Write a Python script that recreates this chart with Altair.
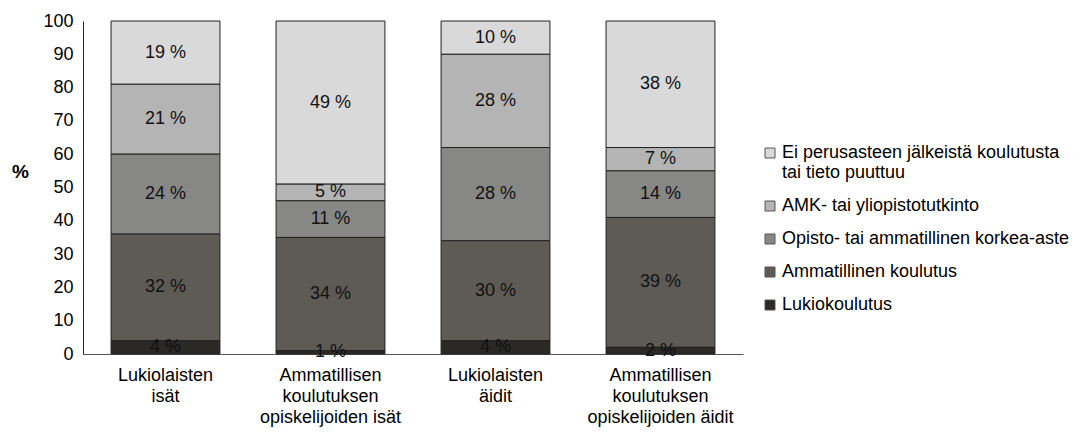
import altair as alt
import pandas as pd

groups = [
    "Lukiolaisten\nisät",
    "Ammatillisen\nkoulutuksen\nopiskelijoiden isät",
    "Lukiolaisten\näidit",
    "Ammatillisen\nkoulutuksen\nopiskelijoiden äidit",
]
# legend order (top to bottom)
categories = [
    "Ei perusasteen jälkeistä koulutusta\ntai tieto puuttuu",
    "AMK- tai yliopistotutkinto",
    "Opisto- tai ammatillinen korkea-aste",
    "Ammatillinen koulutus",
    "Lukiokoulutus",
]
colors = ["#d9d9d9", "#b4b4b4", "#878786", "#5e5b56", "#2a2925"]

# values per category, in group order
ei = [19, 49, 10, 38]
amk = [21, 5, 28, 7]
opisto = [24, 11, 28, 14]
ammat = [32, 34, 30, 39]
lukio = [4, 1, 4, 2]

y_ticks = list(range(0, 101, 10))

series = [ei, amk, opisto, ammat, lukio]
rows = []
for ci, (cat, vals) in enumerate(zip(categories, series)):
    for g, v in zip(groups, vals):
        rows.append({"group": g, "cat": cat, "value": v, "stackorder": len(categories) - ci})
df = pd.DataFrame(rows)

FONT = "Liberation Sans"
FS = 18

base = alt.Chart(df).transform_stack(
    stack="value",
    groupby=["group"],
    as_=["y0", "y1"],
    sort=[alt.SortField("stackorder", order="ascending")],
).transform_calculate(
    mid="(datum.y0 + datum.y1) / 2",
    lbl="datum.value + ' %'",
)

x_axis = alt.Axis(
    title=None,
    labelAngle=0,
    labelExpr="split(datum.label, '\\n')",
    ticks=False,
    labelPadding=12,
    labelLineHeight=21,
    labelFontSize=FS,
    labelColor="#000",
    domainColor="#555",
    labelFont=FONT,
)

y_axis = alt.Axis(
    title="%",
    titleAngle=0,
    titleFontWeight="bold",
    titleFontSize=19,
    titleX=-63,
    titleY=160,
    titleFont=FONT,
    values=y_ticks,
    labelOverlap=False,
    ticks=False,
    grid=False,
    labelFontSize=FS,
    labelPadding=10,
    labelColor="#000",
    domainColor="#222",
    labelFont=FONT,
)

y_scale = alt.Scale(domain=[0, 100])
x_scale = alt.Scale(paddingInner=0.34, paddingOuter=0.17)

bars = base.mark_bar(stroke="#222", strokeWidth=1).encode(
    x=alt.X("group:N", sort=groups, scale=x_scale, axis=x_axis),
    y=alt.Y("y0:Q", scale=y_scale, axis=y_axis),
    y2="y1:Q",
    color=alt.Color(
        "cat:N",
        scale=alt.Scale(domain=categories, range=colors),
        legend=alt.Legend(
            title=None,
            orient="none",
            legendX=678,
            legendY=123,
            symbolType="square",
            symbolSize=100,
            symbolStrokeColor="#555",
            symbolStrokeWidth=1,
            labelFontSize=FS,
            labelFont=FONT,
            labelColor="#000",
            labelLimit=400,
            labelExpr="split(datum.label, '\\n')",
            rowPadding=15,
            labelOffset=3,
        ),
    ),
)

text = base.mark_text(fontSize=FS, font=FONT, color="#111").encode(
    x=alt.X("group:N", sort=groups, scale=x_scale, axis=x_axis),
    y=alt.Y("mid:Q", scale=y_scale, axis=y_axis),
    text="lbl:N",
)

chart = (
    alt.layer(bars, text)
    .properties(
        width=660,
        height=333,
        autosize=alt.AutoSizeParams(type="none"),
        padding={"left": 75, "top": 13, "right": 330, "bottom": 73},
    )
    .configure_view(stroke=None)
)

chart.save("out.html", embed_options={"renderer": "svg", "actions": False})
